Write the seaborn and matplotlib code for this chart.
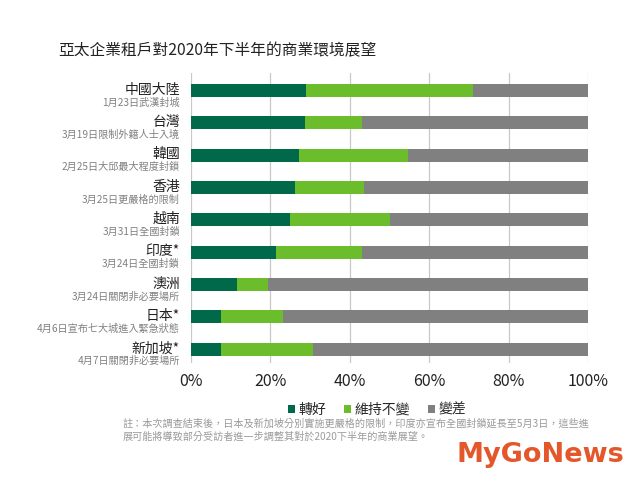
import matplotlib
matplotlib.use("Agg")
import matplotlib.pyplot as plt
import seaborn as sns
import pandas as pd
import numpy as np
from matplotlib.patches import Patch

countries = ["中國大陸", "台灣", "韓國", "香港", "越南", "印度*", "澳洲", "日本*", "新加坡*"]
events = ["1月23日武漢封城", "3月19日限制外籍人士入境", "2月25日大邱最大程度封鎖",
          "3月25日更嚴格的限制", "3月31日全國封鎖", "3月24日全國封鎖",
          "3月24日關閉非必要場所", "4月6日宣布七大城進入緊急狀態", "4月7日關閉非必要場所"]
better = [29.0, 28.6, 27.2, 26.1, 24.9, 21.3, 11.5, 7.6, 7.6]
same = [42.0, 14.5, 27.5, 17.5, 25.3, 21.8, 7.8, 15.6, 23.1]
worse = [29.0, 56.9, 45.3, 56.4, 49.8, 56.9, 80.7, 76.8, 69.3]
series_names = ["轉好", "維持不變", "變差"]
colors = ["#00694A", "#6CBD2B", "#808080"]
xticks = [0, 20, 40, 60, 80, 100]
title = "亞太企業租戶對2020年下半年的商業環境展望"
note_lines = ["註：本次調查結束後，日本及新加坡分別實施更嚴格的限制，印度亦宣布全國封鎖延長至5月3日，這些進",
              "展可能將導致部分受訪者進一步調整其對於2020下半年的商業展望。"]

sns.set_theme(style="white")
plt.rcParams['font.family'] = ['Noto Sans CJK TC', 'DejaVu Sans']

df = pd.DataFrame({"country": countries, "better": better, "same": same, "worse": worse})
df["c1"] = df["better"]
df["c2"] = df["better"] + df["same"]
df["c3"] = df["better"] + df["same"] + df["worse"]

fig = plt.figure(figsize=(6.4, 4.8), dpi=100)
ax = fig.add_axes([191/640, 1-363/480, 397/640, 290/480])

for col, c in zip(["c3", "c2", "c1"], colors[::-1]):
    sns.barplot(data=df, x=col, y="country", color=c, orient="h", width=0.4,
                saturation=1, ax=ax, edgecolor="none", linewidth=0)

ax.set_xlim(0, 100)
ax.set_ylim(8.43, -0.54)
ax.set_xticks(xticks)
ax.set_xticklabels([f"{v}%" for v in xticks], fontsize=11.5, color="#222222")
ax.tick_params(axis="x", length=0, pad=7)
ax.set_yticks([])
ax.set_xlabel("")
ax.set_ylabel("")
for s in ax.spines.values():
    s.set_visible(False)
ax.xaxis.grid(True, color="#C8C8C8", linewidth=0.9)
ax.set_axisbelow(True)

tr = ax.get_yaxis_transform()
for i, (c, e) in enumerate(zip(countries, events)):
    ax.text(-0.028, i - 0.02, c, transform=tr, ha="right", va="center",
            fontsize=10, color="#222222", fontweight="light")
    ax.text(-0.028, i + 0.37, e, transform=tr, ha="right", va="center",
            fontsize=7.3, color="#808080")

fig.text(58/640, 1-51/480, title, ha="left", va="center", fontsize=11.3, color="#222222")

handles = [Patch(facecolor=c, edgecolor="none") for c in colors]
fig.legend(handles, series_names, loc="center", bbox_to_anchor=(377/640, 1-410/480),
           ncol=3, frameon=False, handlelength=0.5, handleheight=0.5,
           handletextpad=0.25, columnspacing=1.3, prop={"size": 10})

for k, line in enumerate(note_lines):
    fig.text(123/640, 1-(424 + 13*k)/480, line, ha="left", va="center", fontsize=7.3,
             color="#9A9A9A")

fig.text(624/640, 1-455/480, "MyGoNews", ha="right", va="center", fontsize=19.5,
         fontweight="bold", color="#E4572A", family=["DejaVu Sans"])

fig.savefig("out.png", dpi=100)
